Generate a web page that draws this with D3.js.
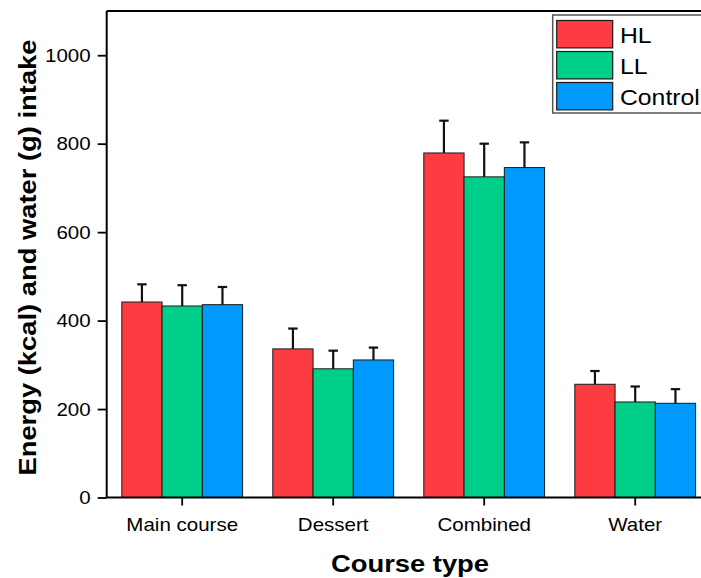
<!DOCTYPE html>
<html>
<head>
<meta charset="utf-8">
<script src="https://cdn.jsdelivr.net/npm/d3@7/dist/d3.min.js"></script>
<style>
  html, body { margin: 0; padding: 0; background: #fff; }
  svg { display: block; }
  text { font-family: "Liberation Sans", Arial, sans-serif; fill: #000; }
</style>
</head>
<body>
<svg id="chart" width="701" height="578"></svg>
<script>
const categories = ["Main course", "Dessert", "Combined", "Water"];
const seriesNames = ["HL", "LL", "Control"];
const seriesColors = ["#fc3c40", "#00cf89", "#009afe"];
const hlValues = [442, 336, 779, 256];
const hlErrors = [40, 46, 73, 30];
const llValues = [433, 291, 725, 216];
const llErrors = [47, 41, 75, 35];
const controlValues = [436, 311, 746, 213];
const controlErrors = [40, 28, 57, 32];
const yTicks = [0, 200, 400, 600, 800, 1000];

const values = [hlValues, llValues, controlValues];
const errors = [hlErrors, llErrors, controlErrors];

const SX = 1.14;
const svg = d3.select("#chart");
const pLeft = 106.7, pRight = 710.7, pTop = 11, pBottom = 497.5;

const x0 = d3.scaleBand().domain(categories).range([pLeft, pRight]).paddingInner(0.2).paddingOuter(0.1);
const x1 = d3.scaleBand().domain(seriesNames).range([0, x0.bandwidth()]).padding(0);
const y = d3.scaleLinear().domain([0, 1100]).range([pBottom, pTop]);

const data = [];
categories.forEach((c, ci) => {
  seriesNames.forEach((s, si) => {
    data.push({ cat: c, series: s, si: si, value: values[si][ci], err: errors[si][ci] });
  });
});

// bars
const bars = svg.append("g");
bars.selectAll("rect").data(data).join("rect")
  .attr("x", d => x0(d.cat) + x1(d.series))
  .attr("y", d => y(d.value))
  .attr("width", x1.bandwidth())
  .attr("height", d => y(0) - y(d.value))
  .attr("fill", d => seriesColors[d.si])
  .attr("stroke", "#1a1a1a")
  .attr("stroke-width", 1);

// error bars
const eb = svg.append("g").attr("stroke", "#111").attr("stroke-width", 2.2);
eb.selectAll("line.v").data(data).join("line").attr("class", "v")
  .attr("x1", d => x0(d.cat) + x1(d.series) + x1.bandwidth() / 2)
  .attr("x2", d => x0(d.cat) + x1(d.series) + x1.bandwidth() / 2)
  .attr("y1", d => y(d.value))
  .attr("y2", d => y(d.value + d.err));
eb.selectAll("line.c").data(data).join("line").attr("class", "c")
  .attr("x1", d => x0(d.cat) + x1(d.series) + x1.bandwidth() / 2 - 4.7)
  .attr("x2", d => x0(d.cat) + x1(d.series) + x1.bandwidth() / 2 + 4.7)
  .attr("y1", d => y(d.value + d.err))
  .attr("y2", d => y(d.value + d.err));

// frame top & right
svg.append("line").attr("x1", pLeft).attr("x2", pRight).attr("y1", pTop).attr("y2", pTop)
  .attr("stroke", "#000").attr("stroke-width", 2);
svg.append("line").attr("x1", pRight).attr("x2", pRight).attr("y1", pTop).attr("y2", pBottom)
  .attr("stroke", "#000").attr("stroke-width", 2);

// y axis
const yAxis = svg.append("g").attr("transform", `translate(${pLeft},0)`)
  .call(d3.axisLeft(y).tickValues(yTicks).tickFormat(d3.format("d")).tickSize(9).tickSizeOuter(0).tickPadding(7));
yAxis.select(".domain").attr("stroke", "#000").attr("stroke-width", 2).attr("d", `M0,${pTop}V${pBottom}`);
yAxis.selectAll(".tick line").attr("stroke", "#000").attr("stroke-width", 1.8);
yAxis.selectAll(".tick text")
  .attr("x", null).attr("dy", "0.35em")
  .attr("transform", `translate(-16,0) scale(${SX},1)`)
  .style("font-size", "18px").style("font-family", "'Liberation Sans', Arial, sans-serif");

// x axis
const xAxis = svg.append("g").attr("transform", `translate(0,${pBottom})`)
  .call(d3.axisBottom(x0).tickSize(8).tickSizeOuter(0));
xAxis.select(".domain").attr("stroke", "#000").attr("stroke-width", 2).attr("d", `M${pLeft},0H${pRight}`);
xAxis.selectAll(".tick line").attr("stroke", "#000").attr("stroke-width", 1.8);
xAxis.selectAll(".tick text")
  .attr("y", null).attr("dy", null)
  .attr("transform", `translate(0,33.5) scale(${SX},1)`)
  .style("font-size", "18px").style("font-family", "'Liberation Sans', Arial, sans-serif");

// axis titles
svg.append("text")
  .attr("transform", `translate(410,572) scale(${SX},1)`)
  .attr("text-anchor", "middle")
  .style("font-size", "24px").style("font-weight", "bold")
  .text("Course type");
svg.append("text")
  .attr("transform", `translate(36,257.5) rotate(-90) scale(${SX},1)`)
  .attr("text-anchor", "middle")
  .style("font-size", "24px").style("font-weight", "bold")
  .text("Energy (kcal) and water (g) intake");

// legend
const lg = svg.append("g");
lg.append("rect").attr("x", 552.7).attr("y", 15).attr("width", 170).attr("height", 98)
  .attr("fill", "#fff").attr("stroke", "#555").attr("stroke-width", 1.5);
const rowY = d3.scalePoint().domain(seriesNames).range([34.2, 96.2]);
seriesNames.forEach((s, i) => {
  lg.append("rect").attr("x", 556.7).attr("y", rowY(s) - 13.7).attr("width", 56).attr("height", 27.4)
    .attr("fill", seriesColors[i]).attr("stroke", "#1a1a1a").attr("stroke-width", 1.2);
  lg.append("text")
    .attr("transform", `translate(620,${rowY(s) + 9}) scale(1.1,1)`)
    .style("font-size", "22.5px")
    .text(s);
});
</script>
</body>
</html>
